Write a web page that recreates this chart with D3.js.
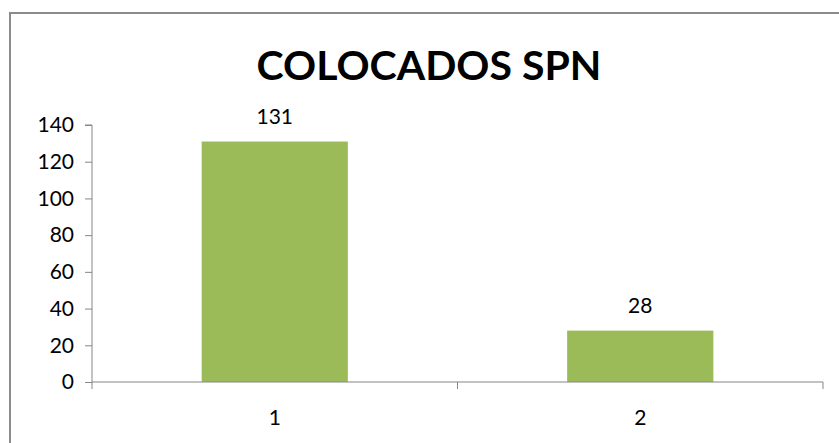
<!DOCTYPE html>
<html>
<head>
<meta charset="utf-8">
<script src="https://cdn.jsdelivr.net/npm/d3@7"></script>
<style>
  body { margin: 0; background: #fff; }
  text { font-family: Lato, "Open Sans", sans-serif; }
</style>
</head>
<body>
<div id="chart"></div>
<script>
const width = 839;
const height = 443;

const title = "COLOCADOS SPN";
const categories = ["1", "2"];
const values = [131, 28];
const yTicks = [0, 20, 40, 60, 80, 100, 120, 140];

const margin = { left: 92, right: 16, top: 125, bottom: 61 };

const svg = d3.select("#chart")
  .append("svg")
  .attr("width", width)
  .attr("height", height);

// chart area border (right and bottom edges fall outside the picture)
svg.append("rect")
  .attr("x", 10)
  .attr("y", 13)
  .attr("width", 900)
  .attr("height", 500)
  .attr("fill", "#fff")
  .attr("stroke", "#8c8c8c")
  .attr("stroke-width", 2);

const x = d3.scaleBand()
  .domain(categories)
  .range([margin.left, width - margin.right])
  .paddingInner(0.6)
  .paddingOuter(0.3);

const xAxisScale = d3.scalePoint()
  .domain(categories)
  .range([margin.left, width - margin.right])
  .padding(0.5);

const y = d3.scaleLinear()
  .domain([0, 140])
  .range([height - margin.bottom, margin.top]);

// y axis
const yAxis = svg.append("g")
  .attr("transform", `translate(${margin.left},0)`)
  .call(d3.axisLeft(y).tickValues(yTicks).tickSize(7).tickPadding(11));
yAxis.select(".domain").attr("stroke", "#868686").attr("d", `M-7,${y(140)}H0V${y(0)}`);
yAxis.selectAll(".tick line").attr("stroke", "#868686");
yAxis.selectAll(".tick text")
  .attr("fill", "#000")
  .style("font-size", "21px");

// bars
svg.selectAll("rect.bar")
  .data(values)
  .enter()
  .append("rect")
  .attr("class", "bar")
  .attr("x", (d, i) => x(categories[i]))
  .attr("y", d => y(d))
  .attr("width", x.bandwidth())
  .attr("height", d => y(0) - y(d))
  .attr("fill", "#9BBB59");

// x axis
const x0 = y(0);
const xAxis = svg.append("g")
  .attr("transform", `translate(0,${x0})`);
xAxis.append("path")
  .attr("d", `M${margin.left},0H${width - margin.right}`)
  .attr("stroke", "#868686")
  .attr("fill", "none");
const boundaries = [margin.left, (margin.left + width - margin.right) / 2, width - margin.right];
xAxis.selectAll("line.tick")
  .data(boundaries)
  .enter()
  .append("line")
  .attr("x1", d => d)
  .attr("x2", d => d)
  .attr("y1", 0)
  .attr("y2", 7)
  .attr("stroke", "#868686");
xAxis.selectAll("text.cat")
  .data(categories)
  .enter()
  .append("text")
  .attr("x", d => xAxisScale(d))
  .attr("y", 43)
  .attr("text-anchor", "middle")
  .style("font-size", "21px")
  .text(d => d);

// value labels
svg.selectAll("text.val")
  .data(values)
  .enter()
  .append("text")
  .attr("class", "val")
  .attr("x", (d, i) => x(categories[i]) + x.bandwidth() / 2)
  .attr("y", d => y(d) - 18)
  .attr("text-anchor", "middle")
  .style("font-size", "21px")
  .text(d => d);

svg.append("text")
  .attr("x", 429)
  .attr("y", 80)
  .attr("text-anchor", "middle")
  .style("font-size", "41px")
  .style("font-weight", "bold")
  .text(title);
</script>
</body>
</html>
